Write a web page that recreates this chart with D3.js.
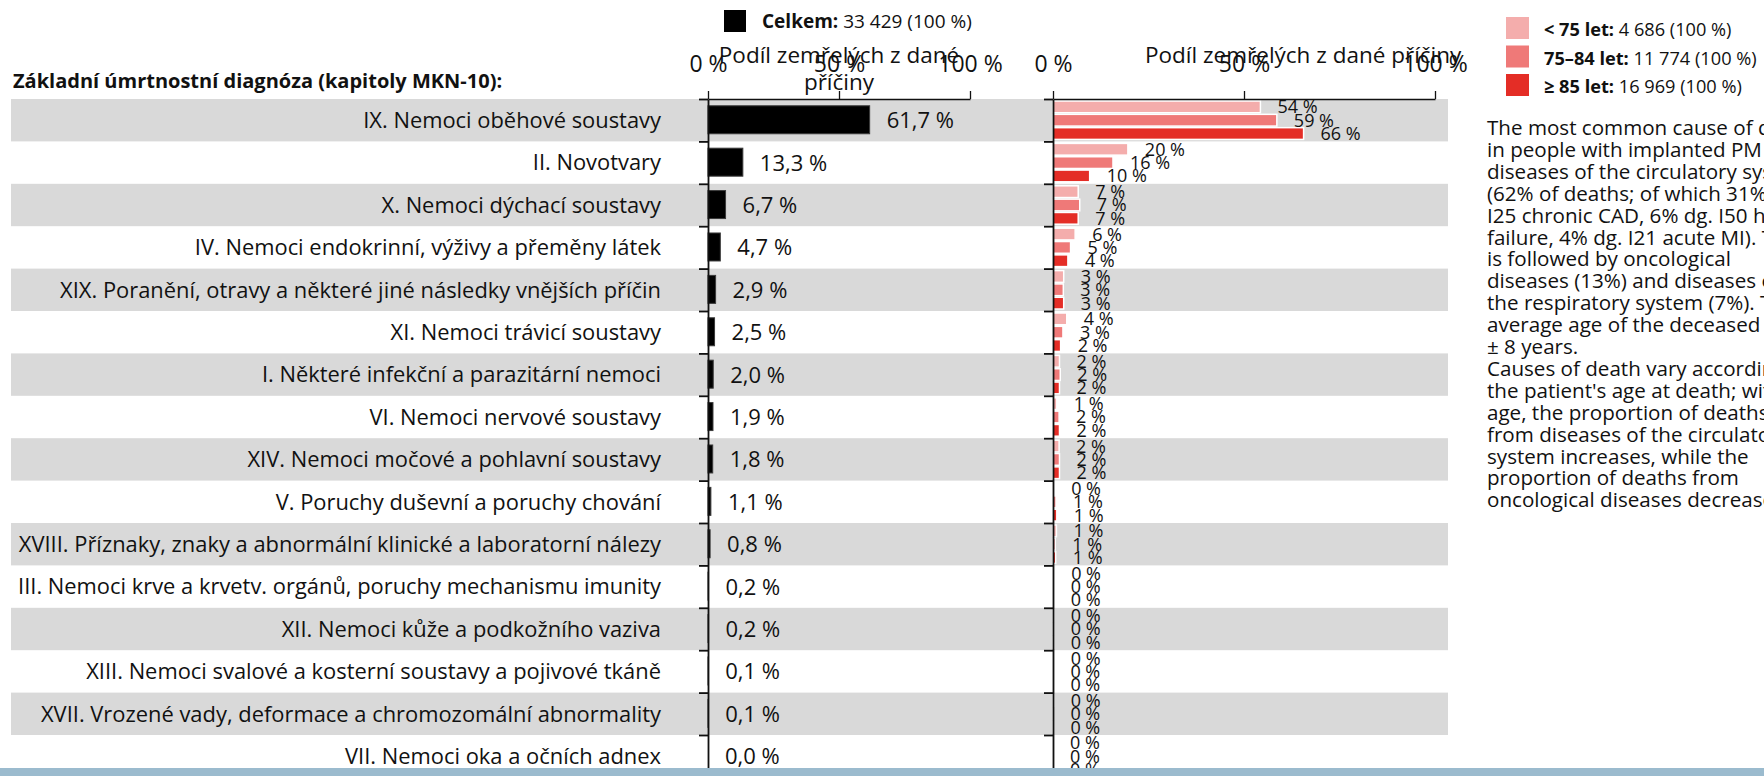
<!DOCTYPE html>
<html>
<head>
<meta charset="utf-8">
<script src="https://cdnjs.cloudflare.com/ajax/libs/d3/7.8.5/d3.min.js"></script>
<style>
  body { margin: 0; background: #fff; }
  svg { display: block; font-family: "Open Sans", Lato, sans-serif; }
</style>
</head>
<body>
<div class="chart"></div>
<script>
// --- data ---
var categories = [
  "IX. Nemoci oběhové soustavy",
  "II. Novotvary",
  "X. Nemoci dýchací soustavy",
  "IV. Nemoci endokrinní, výživy a přeměny látek",
  "XIX. Poranění, otravy a některé jiné následky vnějších příčin",
  "XI. Nemoci trávicí soustavy",
  "I. Některé infekční a parazitární nemoci",
  "VI. Nemoci nervové soustavy",
  "XIV. Nemoci močové a pohlavní soustavy",
  "V. Poruchy duševní a poruchy chování",
  "XVIII. Příznaky, znaky a abnormální klinické a laboratorní nálezy",
  "III. Nemoci krve a krvetv. orgánů, poruchy mechanismu imunity",
  "XII. Nemoci kůže a podkožního vaziva",
  "XIII. Nemoci svalové a kosterní soustavy a pojivové tkáně",
  "XVII. Vrozené vady, deformace a chromozomální abnormality",
  "VII. Nemoci oka a očních adnex"
];
var total = [61.7, 13.3, 6.7, 4.7, 2.9, 2.5, 2.0, 1.9, 1.8, 1.1, 0.8, 0.2, 0.2, 0.1, 0.1, 0.0];
var under75 = [54.3, 19.6, 6.6, 5.8, 2.8, 3.6, 1.7, 1.0, 1.6, 0.3, 0.9, 0.3, 0.2, 0.2, 0.2, 0.0];
var age7584 = [58.6, 15.7, 7.0, 4.6, 2.7, 2.6, 1.9, 1.6, 1.7, 0.8, 0.6, 0.2, 0.2, 0.1, 0.1, 0.0];
var over85 = [65.6, 9.6, 6.6, 3.9, 2.8, 2.0, 1.7, 1.7, 1.7, 1.0, 0.7, 0.2, 0.2, 0.1, 0.1, 0.0];

var xTicks = [0, 50, 100];
var yTitle = "Základní úmrtnostní diagnóza (kapitoly MKN-10):";
var axisTitle = "Podíl zemřelých z dané příčiny";
var totalLabel = "Celkem:";
var totalCount = "33 429 (100 %)";
var ageLabels = ["< 75 let:", "75–84 let:", "≥ 85 let:"];
var ageCounts = ["4 686 (100 %)", "11 774 (100 %)", "16 969 (100 %)"];
var noteLines = [
  "The most common cause of death",
  "in people with implanted PM is",
  "diseases of the circulatory system",
  "(62% of deaths; of which 31% dg.",
  "I25 chronic CAD, 6% dg. I50 heart",
  "failure, 4% dg. I21 acute MI). This",
  "is followed by oncological",
  "diseases (13%) and diseases of",
  "the respiratory system (7%). The",
  "average age of the deceased",
  "± 8 years.",
  "Causes of death vary according to",
  "the patient's age at death; with",
  "age, the proportion of deaths",
  "from diseases of the circulatory",
  "system increases, while the",
  "proportion of deaths from",
  "oncological diseases decreases."
];

var ageColors = ["#f4adac", "#ef7978", "#e42d26"];

var width = 1764, height = 776;
var rowTop = 99, rowH = 42.4;

var svg = d3.select(".chart")
  .append("svg")
  .attr("width", width)
  .attr("height", height);

var y = d3.scaleBand()
  .domain(d3.range(categories.length))
  .range([rowTop, rowTop + rowH * categories.length]);

// row boundaries, for the tick marks
var yEdge = d3.scaleLinear()
  .domain([0, categories.length])
  .range([rowTop, rowTop + rowH * categories.length]);

var xL = d3.scaleLinear().domain([0, 100]).range([708, 970]);
var xR = d3.scaleLinear().domain([0, 100]).range([1053, 1435]);

var sub = d3.scaleBand()
  .domain([0, 1, 2])
  .range([0, y.bandwidth()])
  .paddingInner(0.12)
  .paddingOuter(0.15);

var czFormat = d3.formatLocale({decimal: ",", thousands: " ", grouping: [3], currency: ["", ""]}).format(".1f");
var intFormat = d3.format(".0f");

// striped rows
svg.append("g")
  .selectAll("rect")
  .data(d3.range(0, categories.length, 2))
  .join("rect")
  .attr("x", 11)
  .attr("y", function(i){ return y(i); })
  .attr("width", 1448 - 11)
  .attr("height", y.bandwidth())
  .attr("fill", "#d9d9d9");

// row labels
svg.append("g")
  .selectAll("text")
  .data(categories)
  .join("text")
  .attr("x", 661)
  .attr("y", function(d, i){ return y(i) + y.bandwidth() / 2; })
  .attr("dy", "0.36em")
  .attr("text-anchor", "end")
  .attr("font-size", 21.9)
  .attr("fill", "#111")
  .text(function(d){ return d; });

svg.append("text")
  .attr("x", 13)
  .attr("y", 88)
  .attr("font-size", 20)
  .attr("font-weight", "bold")
  .attr("fill", "#111")
  .text(yTitle);

// ---- left panel: total ----
svg.append("g")
  .selectAll("rect")
  .data(total)
  .join("rect")
  .attr("x", xL(0))
  .attr("y", function(d, i){ return y(i) + y.bandwidth() * 0.16; })
  .attr("width", function(d){ return xL(d) - xL(0); })
  .attr("height", y.bandwidth() * 0.66)
  .attr("fill", "#000")
  .attr("stroke", "#3a3a3a")
  .attr("stroke-width", 1);

svg.append("g")
  .selectAll("text")
  .data(total)
  .join("text")
  .attr("x", function(d){ return xL(d) + 17; })
  .attr("y", function(d, i){ return y(i) + y.bandwidth() / 2; })
  .attr("dy", "0.36em")
  .attr("font-size", 22)
  .attr("fill", "#111")
  .text(function(d){ return czFormat(d) + " %"; });

// ---- right panel: age groups ----
var groups = [under75, age7584, over85];
groups.forEach(function(series, k){
  svg.append("g")
    .selectAll("rect")
    .data(series)
    .join("rect")
    .attr("x", xR(0))
    .attr("y", function(d, i){ return y(i) + sub(k); })
    .attr("width", function(d){ return xR(d) - xR(0); })
    .attr("height", sub.bandwidth())
    .attr("fill", ageColors[k])
    .attr("stroke", "#fff")
    .attr("stroke-width", 1.5);
});
groups.forEach(function(series, k){
  svg.append("g")
    .selectAll("text")
    .data(series)
    .join("text")
    .attr("x", function(d){ return xR(d) + 17; })
    .attr("y", function(d, i){ return y(i) + sub(k) + sub.bandwidth() / 2; })
    .attr("dy", "0.36em")
    .attr("font-size", 18)
    .attr("fill", "#111")
    .text(function(d){ return intFormat(d) + " %"; });
});

// ---- axes ----
function topAxis(scale){
  return d3.axisTop(scale)
    .tickValues(xTicks)
    .tickFormat(function(d){ return d + " %"; })
    .tickSize(8)
    .tickSizeOuter(0)
    .tickPadding(19);
}
function leftAxis(){
  return d3.axisLeft(yEdge)
    .tickValues(d3.range(categories.length + 1))
    .tickFormat("")
    .tickSize(9)
    .tickSizeOuter(0);
}
[xL, xR].forEach(function(sc){
  var ax = svg.append("g")
    .attr("transform", "translate(0," + rowTop + ")")
    .call(topAxis(sc));
  ax.selectAll("text").attr("font-size", 23).attr("fill", "#111").attr("font-family", "'Open Sans', sans-serif");
  ax.selectAll("path, line").attr("stroke", "#111").attr("stroke-width", 1.3);

  var ay = svg.append("g")
    .attr("transform", "translate(" + sc(0) + ",0)")
    .call(leftAxis());
  ay.selectAll("path, line").attr("stroke", "#111").attr("stroke-width", 1.8);
});

// axis titles
var tL = svg.append("text")
  .attr("text-anchor", "middle")
  .attr("font-size", 22.5)
  .attr("fill", "#111");
tL.append("tspan").attr("x", xL(50)).attr("y", 63).text("Podíl zemřelých z dané");
tL.append("tspan").attr("x", xL(50)).attr("y", 90).text("příčiny");

svg.append("text")
  .attr("x", 1145)
  .attr("y", 63)
  .attr("font-size", 22.5)
  .attr("fill", "#111")
  .text(axisTitle);

// ---- legends ----
svg.append("rect")
  .attr("x", 724).attr("y", 10)
  .attr("width", 22).attr("height", 22)
  .attr("fill", "#000");
var lt = svg.append("text")
  .attr("x", 762).attr("y", 28)
  .attr("font-size", 19)
  .attr("fill", "#111");
lt.append("tspan").attr("font-weight", "bold").text(totalLabel);
lt.append("tspan").text(" " + totalCount);

var lg = svg.append("g")
  .selectAll("g")
  .data(ageLabels)
  .join("g")
  .attr("transform", function(d, i){ return "translate(1506," + (17 + i * 28.5) + ")"; });
lg.append("rect")
  .attr("width", 23).attr("height", 22)
  .attr("fill", function(d, i){ return ageColors[i]; });
var lgt = lg.append("text")
  .attr("x", 38).attr("y", 19)
  .attr("font-size", 18.2)
  .attr("fill", "#111");
lgt.append("tspan").attr("font-weight", "bold").text(function(d){ return d; });
lgt.append("tspan").text(function(d, i){ return " " + ageCounts[i]; });

// ---- note ----
svg.append("g")
  .selectAll("text")
  .data(noteLines)
  .join("text")
  .attr("x", 1487)
  .attr("y", function(d, i){ return 135 + i * 21.9; })
  .attr("font-size", 20.6)
  .attr("fill", "#111")
  .text(function(d){ return d; });

// bottom strip
svg.append("rect")
  .attr("x", 0).attr("y", 768)
  .attr("width", width).attr("height", height - 768)
  .attr("fill", "#9bbbce");
</script>
</body>
</html>
